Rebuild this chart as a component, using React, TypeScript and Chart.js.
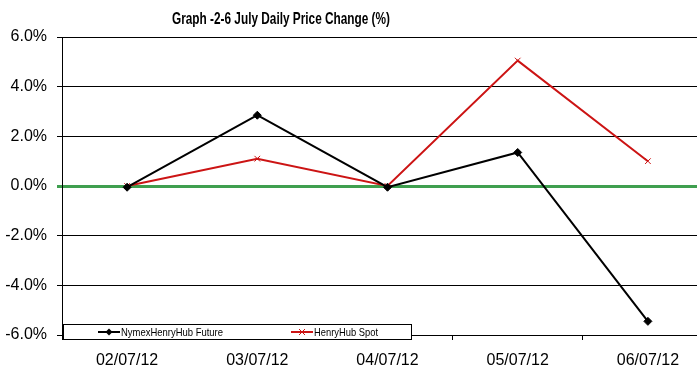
import React, { useEffect, useRef } from "react";
import { Chart, registerables } from "chart.js";

Chart.register(...registerables);

const TITLE = "Graph -2-6 July Daily Price Change (%)";
const categories = ["02/07/12", "03/07/12", "04/07/12", "05/07/12", "06/07/12"];
const nymexLabel = "NymexHenryHub Future";
const nymexValues = [-0.05, 2.85, -0.05, 1.35, -5.45];
const spotLabel = "HenryHub Spot";
const spotValues = [0.0, 1.1, 0.0, 5.05, 1.0];
const yMin = -6;
const yMax = 6;
const yStep = 2;

const RED = "#cc1414";
const GREEN = "#3f9f4f";

const overlayPlugin = {
  id: "overlay",
  afterDraw(chart: any) {
    const ctx = chart.ctx as CanvasRenderingContext2D;
    ctx.save();
    // Title
    ctx.fillStyle = "#000";
    ctx.font = "bold 17px Arial, 'Liberation Sans', sans-serif";
    ctx.textAlign = "center";
    ctx.textBaseline = "middle";
    ctx.fillText(TITLE, 281, 19, 218);

    // Legend box
    const area = chart.chartArea;
    const bx = area.left + 1.5;
    const by = area.bottom - 10.5;
    const bw = 348;
    const bh = 15;
    ctx.fillStyle = "#fff";
    ctx.fillRect(bx, by, bw, bh);
    ctx.strokeStyle = "#000";
    ctx.lineWidth = 1;
    ctx.strokeRect(bx, by, bw, bh);

    const cy = by + bh / 2;
    const items = chart.data.datasets.map((d: any, i: number) => ({
      label: d.label,
      color: d.borderColor,
      style: d.pointStyle,
      x: i === 0 ? 98 : 291,
      tw: i === 0 ? 102 : 64,
    }));
    items.forEach((it: any) => {
      ctx.strokeStyle = it.color;
      ctx.lineWidth = 2;
      ctx.beginPath();
      ctx.moveTo(it.x, cy);
      ctx.lineTo(it.x + 22, cy);
      ctx.stroke();
      const mx = it.x + 11;
      if (it.style === "rectRot") {
        ctx.fillStyle = it.color;
        ctx.beginPath();
        ctx.moveTo(mx, cy - 3.5);
        ctx.lineTo(mx + 3.5, cy);
        ctx.lineTo(mx, cy + 3.5);
        ctx.lineTo(mx - 3.5, cy);
        ctx.closePath();
        ctx.fill();
      } else {
        ctx.lineWidth = 1;
        ctx.beginPath();
        ctx.moveTo(mx - 3, cy - 3);
        ctx.lineTo(mx + 3, cy + 3);
        ctx.moveTo(mx + 3, cy - 3);
        ctx.lineTo(mx - 3, cy + 3);
        ctx.stroke();
      }
      ctx.fillStyle = "#000";
      ctx.font = "11px Arial, 'Liberation Sans', sans-serif";
      ctx.textAlign = "left";
      ctx.textBaseline = "middle";
      ctx.fillText(it.label, it.x + 23, cy + 0.5, it.tw);
    });
    ctx.restore();
  },
};

export default function App() {
  const ref = useRef<HTMLCanvasElement | null>(null);

  useEffect(() => {
    if (!ref.current) return;
    const chart = new Chart(ref.current, {
      type: "line",
      data: {
        labels: categories,
        datasets: [
          {
            label: nymexLabel,
            data: nymexValues,
            borderColor: "#000",
            backgroundColor: "#000",
            borderWidth: 2,
            pointStyle: "rectRot",
            pointRadius: 4,
            pointBorderWidth: 1,
            tension: 0,
          },
          {
            label: spotLabel,
            data: spotValues,
            borderColor: RED,
            backgroundColor: RED,
            borderWidth: 2,
            pointStyle: "crossRot",
            pointRadius: 4,
            pointBorderWidth: 1,
            tension: 0,
          },
        ],
      },
      options: {
        responsive: false,
        animation: false,
        layout: { padding: { left: 0, right: 7, top: 37, bottom: 0 } },
        plugins: {
          legend: { display: false },
          title: { display: false },
          tooltip: { enabled: false },
        },
        scales: {
          x: {
            offset: true,
            grid: {
              offset: true,
              drawOnChartArea: false,
              drawTicks: true,
              tickLength: 5,
              color: "#000",
            },
            border: { display: true, color: "#000", width: 1 },
            ticks: {
              color: "#000",
              font: { family: "Arial, 'Liberation Sans', sans-serif", size: 16 },
              padding: 11,
              maxRotation: 0,
            },
            afterFit: (s: any) => {
              s.height = 43;
            },
          },
          y: {
            min: yMin,
            max: yMax,
            ticks: {
              stepSize: yStep,
              color: "#000",
              font: { family: "Arial, 'Liberation Sans', sans-serif", size: 16 },
              padding: 10,
              callback: (v: any) => Number(v).toFixed(1) + "%",
            },
            grid: {
              color: (c: any) => (c.tick && c.tick.value === 0 ? GREEN : "#000"),
              lineWidth: (c: any) => (c.tick && c.tick.value === 0 ? 3 : 1),
              tickLength: 5,
              drawTicks: true,
            },
            border: { display: true, color: "#000", width: 1 },
            afterFit: (s: any) => {
              s.width = 62;
            },
          },
        },
      },
      plugins: [overlayPlugin],
    });
    return () => chart.destroy();
  }, []);

  return (
    <div
      style={{
        position: "fixed",
        left: 0,
        top: 0,
        width: 697,
        height: 378,
        overflow: "hidden",
        background: "#fff",
      }}
    >
      <canvas ref={ref} width={720} height={378} style={{ display: "block" }} />
    </div>
  );
}
